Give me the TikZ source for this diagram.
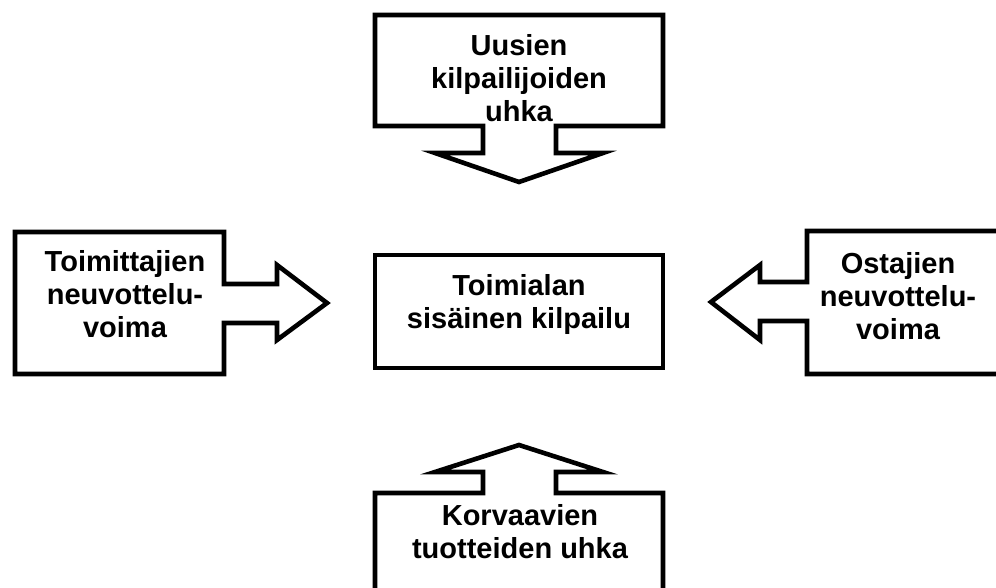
\documentclass[tikz,border=0pt]{standalone}
\usepackage{fontspec}
\setmainfont{Liberation Sans}
\begin{document}
\begin{tikzpicture}[x=1pt,y=-1pt,
  outline/.style={draw=black,line width=4.6pt,line join=miter,fill=white},
  label/.style={font=\bfseries\fontsize{29}{33}\selectfont,align=center,inner sep=0pt,anchor=base}]
\useasboundingbox (0,0) rectangle (996,588);
% threat of new entrants, arrow pointing down
\draw[outline] (375,15) -- (663,15) -- (663,126) -- (556,126) -- (556,153) -- (603,153)
  -- (519,182) -- (435,153) -- (483,153) -- (483,126) -- (375,126) -- cycle;
% supplier power, arrow pointing right
\draw[outline] (15,232) -- (224,232) -- (224,284) -- (277,284) -- (277,265) -- (327,303)
  -- (277,340) -- (277,323) -- (224,323) -- (224,374) -- (15,374) -- cycle;
% buyer power, arrow pointing left
\draw[outline] (1010,231) -- (807,231) -- (807,282) -- (760,282) -- (760,265) -- (711,302)
  -- (760,340) -- (760,321) -- (807,321) -- (807,374) -- (1010,374);
% substitutes, arrow pointing up
\draw[outline] (375,600) -- (375,493) -- (483,493) -- (483,472) -- (435,472) -- (519,445)
  -- (603,472) -- (556,472) -- (556,493) -- (663,493) -- (663,600);
% industry rivalry
\draw[outline] (375,255) rectangle (663,368);

% the base anchor sits on the baseline of the last line
\node[label] (new) at (519,122) {Uusien\\kilpailijoiden\\uhka};
\node[label] (sup) at (125,337) {Toimittajien\\neuvottelu-\\voima};
\node[label] (riv) at (519,328) {Toimialan\\sisäinen kilpailu};
\node[label] (buy) at (898,339) {Ostajien\\neuvottelu-\\voima};
\node[label] (subs) at (520,558) {Korvaavien\\tuotteiden uhka};
\end{tikzpicture}
\end{document}
